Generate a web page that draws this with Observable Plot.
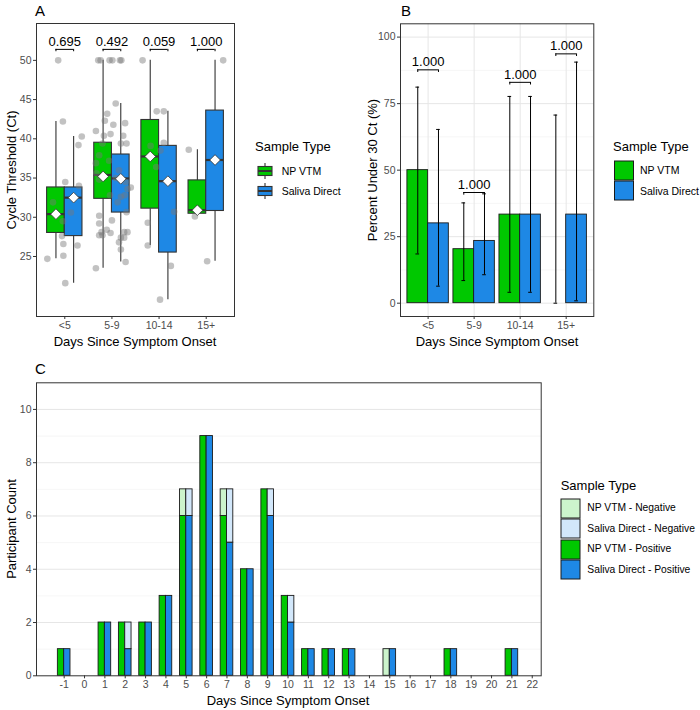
<!DOCTYPE html>
<html><head><meta charset="utf-8">
<script src="https://cdn.jsdelivr.net/npm/d3@7"></script>
<script src="https://cdn.jsdelivr.net/npm/@observablehq/plot@0.6"></script>
<style>
body{margin:0;background:#fff;font-family:"Liberation Sans",Arial,sans-serif;}
#root{position:relative;width:700px;height:710px;overflow:hidden;background:#fff;}
.abs{position:absolute;white-space:nowrap;color:#000;line-height:1;}
svg.plot{position:absolute;overflow:visible;}
</style></head><body><div id="root"></div><script>
// ---------- DATA ----------
const categories = ["<5", "5-9", "10-14", "15+"];
const sampleTypes = ["NP VTM", "Saliva Direct"];

// Panel A box statistics (Cycle Threshold)
const npQ1   = [28.0, 32.35, 31.1, 30.45];
const npMed  = [30.4, 35.4, 37.75, 30.9];
const npQ3   = [33.8, 39.5, 42.4, 34.7];
const npLo   = [24.7, 23.5, 26.4, 30.45];
const npHi   = [42.2, 50, 50, 38.6];
const npMean = [30.4, 35.2, 37.75, 30.9];
const sdQ1   = [27.6, 30.6, 25.5, 30.8];
const sdMed  = [32.5, 34.95, 34.6, 37.3];
const sdQ3   = [33.8, 38.0, 39.1, 43.6];
const sdLo   = [21.6, 24.3, 19.5, 24.4];
const sdHi   = [40.3, 44.5, 43.5, 50];
const sdMean = [32.5, 34.9, 34.6, 37.3];
const pValuesA = ["0.695", "0.492", "0.059", "1.000"];

// Panel A jittered observations: category index, jitter offset, Ct
const ptCat = [
 1,1,1,1,1,1,1,1,1,1,1,1,1,1,1,
 2,2,2,2,2,2,2,2,2,2,2,2,2,2,2,2,2,2,2,2,2,2,2,2,2,2,2,2,2,2,2,2,2,2,2,2,2,2,2,2,2,2,2,2,2,2,2,2,2,
 3,3,3,3,3,3,3,3,3,3,3,3,
 4,4,4,4];
const ptOff = [
 -0.14,-0.04,0.36,0.29,0.01,0.30,-0.25,0.13,-0.04,-0.06,-0.03,0.27,-0.03,-0.37,0.01,
 -0.29,-0.24,-0.05,0.01,0.17,0.20,0.08,-0.10,-0.15,0.28,0.03,-0.34,-0.03,-0.17,0.24,-0.20,0.19,0.31,-0.27,-0.06,-0.34,0.15,-0.33,0.08,-0.27,0.29,0.33,0.40,-0.04,0.27,0.19,0.12,0.31,-0.27,0.00,-0.27,-0.11,-0.22,-0.03,0.26,0.33,-0.27,-0.20,0.19,0.26,0.15,0.19,0.29,-0.34,
 -0.35,-0.05,0.10,0.10,-0.18,0.03,-0.06,0.32,-0.24,-0.24,0.25,0.02,
 0.36,-0.37,-0.24,0.02];
const ptCt = [
 50,42.2,40.3,39.2,34.5,34.0,31.9,30.6,29.5,27.6,26.6,26.4,25.1,24.7,21.6,
 50,50,50,50,50,50,44.5,43.2,42.3,42.0,41.8,41.0,40.6,40.4,40.4,39.4,39.4,39.4,37.9,37.2,36.9,36.0,35.6,35.0,34.8,34.5,33.6,33.8,32.8,32.8,32.6,31.9,30.65,30.2,29.6,29.2,28.4,28.1,28.0,28.1,28.1,27.7,27.7,27.4,27.4,26.8,25.9,24.3,23.5,
 50,43.5,43.5,39.5,39.1,38.5,36.4,30.7,29.3,26.4,23.8,19.5,
 50,38.6,30.1,24.4];

// Panel B: percent under 30 Ct with confidence intervals
const npPct = [50, 20.3, 33.3, 0];
const npCiLo = [18.5, 8.5, 4.1, 0];
const npCiHi = [81.2, 37.7, 77.7, 70.7];
const sdPct = [30, 23.4, 33.3, 33.3];
const sdCiLo = [6.4, 10.7, 4.1, 0.9];
const sdCiHi = [65.3, 41.1, 77.7, 90.6];
const pValuesB = ["1.000", "1.000", "1.000", "1.000"];
const bracketB = [87.7, 41.6, 83.0, 93.7];

// Panel C: participant counts per day since symptom onset
const days  = [-1, 1, 2, 3, 4, 5, 6, 7, 8, 9, 10, 11, 12, 13, 15, 18, 21];
const npPos = [ 1, 2, 2, 2, 3, 6, 9, 6, 4, 7, 3, 1, 1, 1, 0, 1, 1];
const npNeg = [ 0, 0, 0, 0, 0, 1, 0, 1, 0, 0, 0, 0, 0, 0, 1, 0, 0];
const sdPos = [ 1, 2, 1, 2, 3, 6, 9, 5, 4, 6, 2, 1, 1, 1, 1, 1, 1];
const sdNeg = [ 0, 0, 1, 0, 0, 1, 0, 2, 0, 1, 1, 0, 0, 0, 0, 0, 0];
const dayTicks = d3.range(-1, 23);
const legendC = ["NP VTM - Negative", "Saliva Direct - Negative", "NP VTM - Positive", "Saliva Direct - Positive"];

// ---------- STYLE ----------
const GREEN = "#00C800", BLUE = "#1E88E5", LGREEN = "#CCF4CC", LBLUE = "#D2E7FA";
const FONT = "'Liberation Sans', Arial, sans-serif";
const root = document.getElementById("root");

function txt(s, x, y, size, {rotate = false, anchor = "middle", color = "#000"} = {}) {
  const d = document.createElement("div");
  d.className = "abs"; d.textContent = s;
  d.style.fontSize = size + "px"; d.style.color = color;
  d.style.left = x + "px"; d.style.top = y + "px";
  const tx = anchor === "middle" ? "-50%" : anchor === "start" ? "0" : "-100%";
  d.style.transform = `translate(${tx},-50%)` + (rotate ? " rotate(-90deg)" : "");
  root.appendChild(d);
}
function place(svg, left, top) {
  svg.classList.add("plot");
  svg.style.left = left + "px"; svg.style.top = top + "px";
  root.appendChild(svg);
}
const axisStyle = {tickSize: 3, tickPadding: 2, fontSize: 10.5, stroke: "#333", fill: "#4d4d4d", label: null};

// ---------- PANEL A ----------
const HW = 0.1875;
const boxRows = [];
categories.forEach((c, i) => {
  boxRows.push({x: i + 1 - HW, q1: npQ1[i], med: npMed[i], q3: npQ3[i], lo: npLo[i], hi: npHi[i], mean: npMean[i], fill: GREEN});
  boxRows.push({x: i + 1 + HW, q1: sdQ1[i], med: sdMed[i], q3: sdQ3[i], lo: sdLo[i], hi: sdHi[i], mean: sdMean[i], fill: BLUE});
});
const points = ptCat.map((c, k) => ({x: c + ptOff[k], y: ptCt[k]}));
const bracketA = categories.map((c, i) => ({x1: i + 1 - HW, x2: i + 1 + HW, y: 51.4, label: pValuesA[i]}));

const plotA = Plot.plot({
  width: 240, height: 345,
  marginLeft: 36, marginRight: 6, marginTop: 23, marginBottom: 29,
  style: {fontFamily: FONT, background: "transparent", overflow: "visible"},
  x: {type: "linear", domain: [0.4, 4.6]},
  y: {type: "linear", domain: [17.35, 54.7]},
  marks: [
    Plot.ruleX(boxRows, {x: "x", y1: "lo", y2: "q1", stroke: "#333", strokeWidth: 1.1}),
    Plot.ruleX(boxRows, {x: "x", y1: "q3", y2: "hi", stroke: "#333", strokeWidth: 1.1}),
    Plot.rect(boxRows, {x1: d => d.x - HW, x2: d => d.x + HW, y1: "q1", y2: "q3", fill: "fill", stroke: "#333", strokeWidth: 1.1}),
    Plot.ruleY(boxRows, {y: "med", x1: d => d.x - HW, x2: d => d.x + HW, stroke: "#333", strokeWidth: 2.2}),
    Plot.dot(points, {x: "x", y: "y", r: 3.3, fill: "#777", fillOpacity: 0.45, stroke: null}),
    Plot.dot(boxRows, {x: "x", y: "mean", symbol: "diamond2", r: 4.8, fill: "white", stroke: "#333", strokeWidth: 0.8}),
    Plot.ruleY(bracketA, {y: "y", x1: "x1", x2: "x2", stroke: "#000", strokeWidth: 1}),
    Plot.ruleX(bracketA, {x: "x1", y1: "y", y2: d => d.y - 0.3, stroke: "#000", strokeWidth: 1}),
    Plot.ruleX(bracketA, {x: "x2", y1: "y", y2: d => d.y - 0.3, stroke: "#000", strokeWidth: 1}),
    Plot.text(bracketA, {x: d => (d.x1 + d.x2) / 2, y: "y", dy: -8, text: "label", fontSize: 13, fill: "#000"}),
    Plot.frame({stroke: "#333", strokeWidth: 1}),
    Plot.axisX({...axisStyle, ticks: [1, 2, 3, 4], tickFormat: v => categories[v - 1]}),
    Plot.axisY({...axisStyle, ticks: [25, 30, 35, 40, 45, 50]})
  ]
});
place(plotA, 0, 0);

// ---------- PANEL B ----------
const BW = 0.225;
const barRows = [];
categories.forEach((c, i) => {
  barRows.push({x: i + 1 - BW, v: npPct[i], lo: npCiLo[i], hi: npCiHi[i], fill: GREEN});
  barRows.push({x: i + 1 + BW, v: sdPct[i], lo: sdCiLo[i], hi: sdCiHi[i], fill: BLUE});
});
const brB = categories.map((c, i) => ({x1: i + 1 - BW, x2: i + 1 + BW, y: bracketB[i], label: pValuesB[i]}));
const CAP = 0.04;
const plotB = Plot.plot({
  width: 245, height: 345,
  marginLeft: 45, marginRight: 6.7, marginTop: 23.3, marginBottom: 29,
  style: {fontFamily: FONT, background: "transparent", overflow: "visible"},
  x: {type: "linear", domain: [0.4, 4.6]},
  y: {type: "linear", domain: [-5, 105]},
  marks: [
    Plot.gridY([12.5, 37.5, 62.5, 87.5], {stroke: "#f0f0f0", strokeOpacity: 1, strokeWidth: 0.6}),
    Plot.gridY([0, 25, 50, 75, 100], {stroke: "#e6e6e6", strokeOpacity: 1, strokeWidth: 1}),
    Plot.gridX([1, 2, 3, 4], {stroke: "#e6e6e6", strokeOpacity: 1, strokeWidth: 1}),
    Plot.rect(barRows, {x1: d => d.x - BW, x2: d => d.x + BW, y1: d => 0, y2: "v", fill: "fill", stroke: "#1a1a1a", strokeWidth: 0.9}),
    Plot.ruleX(barRows, {x: "x", y1: "lo", y2: "hi", stroke: "#000", strokeWidth: 1}),
    Plot.ruleY(barRows, {y: "lo", x1: d => d.x - CAP, x2: d => d.x + CAP, stroke: "#000", strokeWidth: 1}),
    Plot.ruleY(barRows, {y: "hi", x1: d => d.x - CAP, x2: d => d.x + CAP, stroke: "#000", strokeWidth: 1}),
    Plot.ruleY(brB, {y: "y", x1: "x1", x2: "x2", stroke: "#000", strokeWidth: 1}),
    Plot.ruleX(brB, {x: "x1", y1: "y", y2: d => d.y - 1, stroke: "#000", strokeWidth: 1}),
    Plot.ruleX(brB, {x: "x2", y1: "y", y2: d => d.y - 1, stroke: "#000", strokeWidth: 1}),
    Plot.text(brB, {x: d => (d.x1 + d.x2) / 2, y: "y", dy: -8, text: "label", fontSize: 13, fill: "#000"}),
    Plot.frame({stroke: "#333", strokeWidth: 1}),
    Plot.axisX({...axisStyle, ticks: [1, 2, 3, 4], tickFormat: v => categories[v - 1]}),
    Plot.axisY({...axisStyle, ticks: [0, 25, 50, 75, 100]})
  ]
});
place(plotB, 355, 0);

// ---------- PANEL C ----------
const DW = 0.31;
const stackRows = [];
days.forEach((d, i) => {
  stackRows.push({x1: d - DW, x2: d, y1: 0, y2: npPos[i], fill: GREEN});
  if (npNeg[i]) stackRows.push({x1: d - DW, x2: d, y1: npPos[i], y2: npPos[i] + npNeg[i], fill: LGREEN});
  stackRows.push({x1: d, x2: d + DW, y1: 0, y2: sdPos[i], fill: BLUE});
  if (sdNeg[i]) stackRows.push({x1: d, x2: d + DW, y1: sdPos[i], y2: sdPos[i] + sdNeg[i], fill: LBLUE});
});
const cRows = stackRows.filter(r => r.y2 > r.y1);
const plotC = Plot.plot({
  width: 550, height: 355,
  marginLeft: 36, marginRight: 9.3, marginTop: 27.3, marginBottom: 34.7,
  style: {fontFamily: FONT, background: "transparent", overflow: "visible"},
  x: {type: "linear", domain: [-2.36, 22.44]},
  y: {type: "linear", domain: [0, 11]},
  marks: [
    Plot.gridY([1, 3, 5, 7, 9], {stroke: "#f0f0f0", strokeOpacity: 1, strokeWidth: 0.6}),
    Plot.gridY([2, 4, 6, 8, 10], {stroke: "#e6e6e6", strokeOpacity: 1, strokeWidth: 1}),
    Plot.rect(cRows, {x1: "x1", x2: "x2", y1: "y1", y2: "y2", fill: "fill", stroke: "#1a1a1a", strokeWidth: 0.9}),
    Plot.frame({stroke: "#333", strokeWidth: 1}),
    Plot.axisX({...axisStyle, ticks: dayTicks, tickFormat: d => String(d)}),
    Plot.axisY({...axisStyle, ticks: [0, 2, 4, 6, 8, 10]})
  ]
});
place(plotC, 0, 355);

// ---------- TITLES ----------
txt("A", 35, 10, 15, {anchor: "start"});
txt("B", 401, 10, 15, {anchor: "start"});
txt("C", 35, 368, 15, {anchor: "start"});
txt("Cycle Threshold (Ct)", 11, 170, 13, {rotate: true});
txt("Days Since Symptom Onset", 135, 341, 13);
txt("Percent Under 30 Ct (%)", 372, 170, 13, {rotate: true});
txt("Days Since Symptom Onset", 497, 341, 13);
txt("Participant Count", 11, 529, 13, {rotate: true});
txt("Days Since Symptom Onset", 288, 700, 13);

// ---------- LEGENDS ----------
function svgEl(tag, attrs) {
  const e = document.createElementNS("http://www.w3.org/2000/svg", tag);
  for (const k in attrs) e.setAttribute(k, attrs[k]);
  return e;
}
function legendSvg(left, top, w, h) {
  const s = svgEl("svg", {width: w, height: h});
  s.style.position = "absolute"; s.style.left = left + "px"; s.style.top = top + "px";
  root.appendChild(s);
  return s;
}
// Legend A (boxplot keys)
txt("Sample Type", 255, 146, 13, {anchor: "start"});
[GREEN, BLUE].forEach((col, k) => {
  const cy = 170.7 + 20 * k;
  const s = legendSvg(255, cy - 10, 20, 20);
  s.appendChild(svgEl("line", {x1: 10, x2: 10, y1: 2, y2: 18, stroke: "#333", "stroke-width": 1.1}));
  s.appendChild(svgEl("rect", {x: 3, y: 5.5, width: 14, height: 9, fill: col, stroke: "#333", "stroke-width": 1.1}));
  s.appendChild(svgEl("line", {x1: 3, x2: 17, y1: 10, y2: 10, stroke: "#333", "stroke-width": 2}));
  txt(sampleTypes[k], 281.7, cy, 10.5, {anchor: "start"});
});
// Legend B (filled keys)
txt("Sample Type", 613, 146, 13, {anchor: "start"});
[GREEN, BLUE].forEach((col, k) => {
  const cy = 170.4 + 20.4 * k;
  const s = legendSvg(613, cy - 10.5, 22, 21);
  s.appendChild(svgEl("rect", {x: 1.5, y: 1, width: 19, height: 19, fill: col, stroke: "#1a1a1a", "stroke-width": 1}));
  txt(sampleTypes[k], 640, cy, 10.5, {anchor: "start"});
});
// Legend C
txt("Sample Type", 560.7, 484.6, 13, {anchor: "start"});
[LGREEN, LBLUE, GREEN, BLUE].forEach((col, k) => {
  const cy = 508.3 + 20.45 * k;
  const s = legendSvg(560, cy - 10.5, 22, 21);
  s.appendChild(svgEl("rect", {x: 1, y: 1, width: 19, height: 19, fill: col, stroke: "#1a1a1a", "stroke-width": 1}));
  txt(legendC[k], 587.3, cy, 10.3, {anchor: "start"});
});
</script></body></html>
